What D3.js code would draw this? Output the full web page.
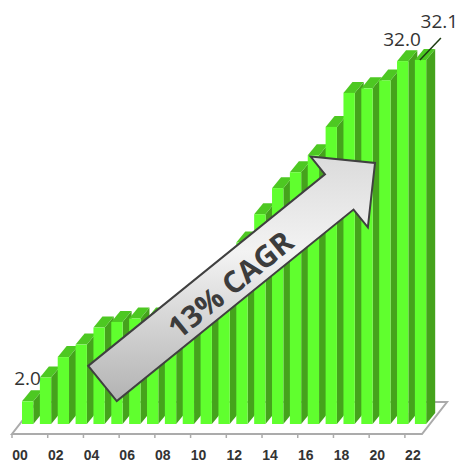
<!DOCTYPE html>
<html><head><meta charset="utf-8">
<script src="https://cdn.jsdelivr.net/npm/d3@7"></script>
<style>html,body{margin:0;padding:0;background:#fff}svg{display:block}</style>
</head><body><svg id="c" width="459" height="463"></svg>
<script>
const years = ["00","01","02","03","04","05","06","07","08","09","10","11","12","13","14","15","16","17","18","19","20","21","22"];
const values = [2.0,4.1,5.9,7.0,8.5,9.0,9.3,9.3,10.0,11.0,12.5,14.0,16.0,18.5,20.8,22.2,23.7,26.2,29.2,29.6,30.3,32.0,32.1];
const shownLabels = ["00","02","04","06","08","10","12","14","16","18","20","22"];
const valueLabels = ["00","21","22"];
const arrowText = "13% CAGR";

const svg = d3.select("#c");
const font = "'Open Sans', sans-serif";
const x = d3.scaleBand().domain(years).range([22, 426.2]).paddingInner(0.367).paddingOuter(0);
const y = d3.scaleLinear().domain([0, 32.1]).range([424, 60]);
const depthX = 9, depthY = 11;

const defs = svg.append("defs");
const g = defs.append("linearGradient").attr("id","ag").attr("gradientUnits","userSpaceOnUse")
  .attr("x1",0).attr("x2",0).attr("y1",160).attr("y2",402);
[[0,"#dcdcdc"],[0.38,"#f3f3f3"],[1,"#b2b2b2"]].forEach(s=>g.append("stop").attr("offset",s[0]).attr("stop-color",s[1]));
defs.append("filter").attr("id","soft").append("feGaussianBlur").attr("stdDeviation",0.5);

// floor
const axisY = 434, backY = 402, floorL = 12, floorR = 422, shift = 25;
svg.append("path")
  .attr("d",`M${floorL},${axisY}L${floorR},${axisY}L${floorR+shift},${backY}L${floorL+shift},${backY}Z`)
  .attr("fill","#fff").attr("stroke","#ababab").attr("stroke-width",2);

// ticks
const tickStep = x.step()*2;
svg.append("g").selectAll("line").data(d3.range(12)).join("line")
  .attr("x1",i=>floorL+i*tickStep).attr("x2",i=>floorL+i*tickStep)
  .attr("y1",axisY).attr("y2",axisY+4).attr("stroke","#ababab").attr("stroke-width",1.5);

// bars
const bars = svg.append("g").attr("filter","url(#soft)").selectAll("g").data(years.map((k,i)=>({k,v:values[i]}))).join("g");
bars.append("path").attr("fill","#44a31f").attr("d",d=>{
  const r=x(d.k)+x.bandwidth(), t=y(d.v), b=y(0);
  return `M${r},${t}L${r+depthX},${t-depthY}L${r+depthX},${b-depthY}L${r},${b}Z`;});
bars.append("path").attr("fill","#4ec822").attr("d",d=>{
  const l=x(d.k), r=l+x.bandwidth(), t=y(d.v);
  return `M${l},${t}L${l+depthX},${t-depthY}L${r+depthX},${t-depthY}L${r},${t}Z`;});
bars.append("rect").attr("fill","#60ff2e")
  .attr("x",d=>x(d.k)).attr("width",x.bandwidth()).attr("y",d=>y(d.v)).attr("height",d=>y(0)-y(d.v));

// axis labels
svg.append("g").selectAll("text").data(shownLabels).join("text")
  .attr("x",d=>x(d)-2).attr("y",460).attr("text-anchor","middle")
  .attr("font-family","'Liberation Sans', sans-serif").attr("font-weight",700).attr("font-size",14).attr("fill","#333").text(d=>d);

// value labels
const vOffset = {"00":[5.5,-16.5],"21":[5,-15],"22":[24.5,-32]};
svg.append("g").selectAll("text").data(valueLabels).join("text")
  .attr("x",d=>x(d)+vOffset[d][0]).attr("y",d=>y(values[years.indexOf(d)])+vOffset[d][1])
  .attr("text-anchor","middle").attr("font-family",font).attr("font-size",19).attr("fill","#333")
  .text(d=>d3.format(".1f")(values[years.indexOf(d)]));
// leader
const lx = x("22"), ly = y(32.1);
svg.append("line").attr("x1",lx+5).attr("y1",ly).attr("x2",lx+26).attr("y2",ly-22)
  .attr("stroke","#1d3a12").attr("stroke-width",1.5);

// arrow
const tail=[102.5,383.5], tip=[375,163];
const len=Math.hypot(tip[0]-tail[0],tip[1]-tail[1]);
const ang=Math.atan2(tip[1]-tail[1],tip[0]-tail[0])*180/Math.PI;
const hw=22.7, hh=45.5, hl=46;
const line=d3.line();
const r=ang*Math.PI/180, P=p=>[tail[0]+p[0]*Math.cos(r)-p[1]*Math.sin(r), tail[1]+p[0]*Math.sin(r)+p[1]*Math.cos(r)];
svg.append("path")
  .attr("d",line([[0,-hw],[len-hl,-hw],[len-hl,-hh],[len,0],[len-hl,hh],[len-hl,hw],[0,hw]].map(P))+"Z")
  .attr("fill","url(#ag)").attr("stroke","#404040").attr("stroke-width",2);
svg.append("text").attr("transform",`translate(230,284) rotate(${ang})`)
  .attr("text-anchor","middle").attr("dominant-baseline","central")
  .attr("font-family",font).attr("font-weight",700).attr("font-size",30).attr("fill","#3c3c3c").text(arrowText);
</script></body></html>
